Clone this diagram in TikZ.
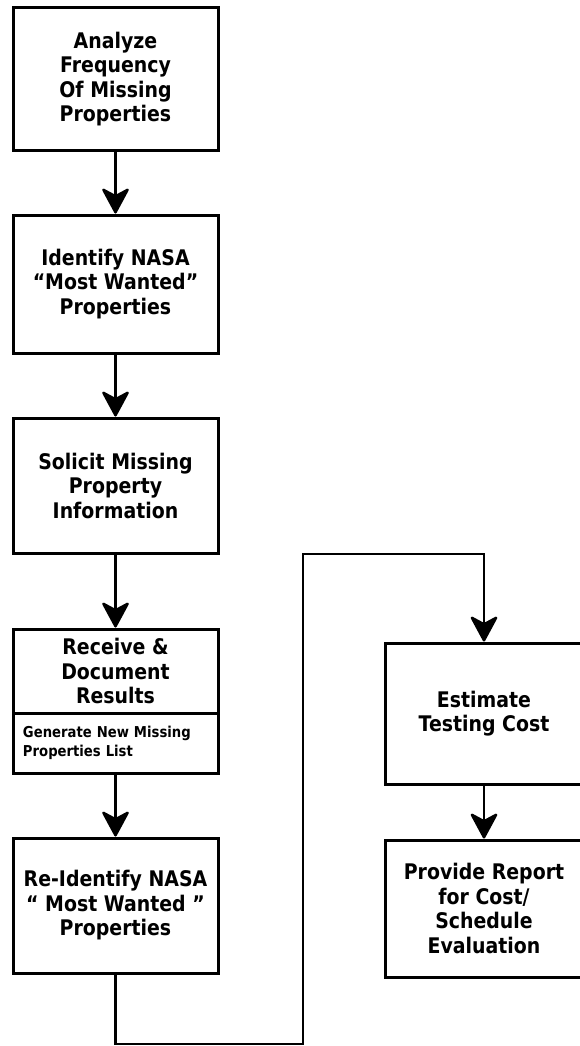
\documentclass[tikz,border=0pt]{standalone}
\usepackage{fontspec}
\setmainfont{DejaVu Sans}[FakeStretch=0.88]
\usetikzlibrary{arrows.meta}
\tikzset{
  box/.style={draw, line width=3pt, minimum width=205pt, align=center, inner sep=0pt,
    font=\bfseries\fontsize{21.5}{24.5}\selectfont},
  smallbox/.style={draw, line width=3pt, text width=185pt, inner xsep=10pt, inner ysep=0pt,
    align=left, font=\bfseries\fontsize{15}{19}\selectfont},
  arr/.style={-{Stealth[length=28pt,width=30pt,inset=8pt,round]}, line width=2.5pt}
}
\begin{document}
\begin{tikzpicture}[x=1pt,y=-1pt]
  \useasboundingbox (0,0) rectangle (580,1046);
  \node[box, minimum height=142pt] (A) at (115.5,79) {Analyze\\Frequency\\Of Missing\\Properties};
  \node[box, minimum height=138pt] (B) at (115.5,284) {Identify NASA\\``Most Wanted''\\Properties};
  \node[box, minimum height=135pt] (C) at (115.5,485.5) {Solicit Missing\\Property\\Information};
  \node[box, minimum height=84pt] (D) at (115.5,671) {Receive \&\\Document\\Results};
  \node[smallbox, minimum height=60pt] (D1) at (115.5,743) {\raisebox{-5pt}{Generate New Missing}\\\raisebox{-5pt}{Properties List}};
  \node[box, minimum height=135pt] (E) at (115.5,905.5) {Re-Identify NASA\\`` Most Wanted ''\\Properties};
  \node[box, minimum width=198pt, minimum height=141pt] (F) at (484,713.5) {Estimate\\Testing Cost};
  \node[box, minimum width=198pt, minimum height=137pt] (G) at (484,908.5) {Provide Report\\for Cost/\\Schedule\\Evaluation};
  \coordinate (E1) at (115.5,1044);
  \coordinate (E2) at (303,1044);
  \coordinate (E3) at (303,554);
  \coordinate (E4) at (484,554);
  \draw[arr] (A) -- (B);
  \draw[arr] (B) -- (C);
  \draw[arr] (C) -- (D);
  \draw[arr] (D1) -- (E);
  \draw[arr] (E.south) -- (E1) -- (E2) -- (E3) -- (E4) -- (F.north);
  \draw[arr] (F) -- (G);
\end{tikzpicture}
\end{document}
